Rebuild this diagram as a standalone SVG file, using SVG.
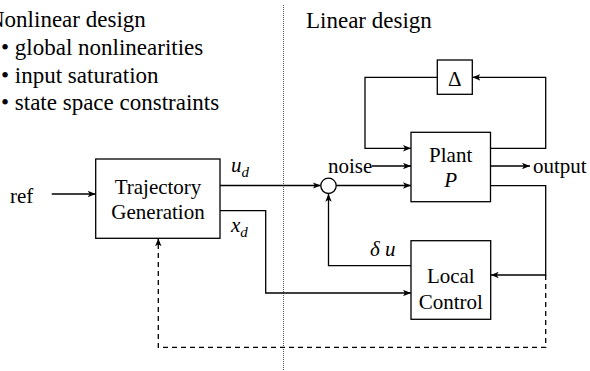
<svg xmlns="http://www.w3.org/2000/svg" width="590" height="371" viewBox="0 0 590 371" font-family="'Liberation Serif', 'DejaVu Serif', serif">
<style>
text{font-family:"Liberation Serif","DejaVu Serif",serif;fill:#000}
.h{font-size:23px}
.l{font-size:21px}
.i{font-style:italic}
.box{fill:#fff;stroke:#000;stroke-width:1.3}
.c{fill:none;stroke:#000;stroke-width:1.3}
.a{marker-end:url(#ah)}
.d{stroke-dasharray:5,4}
</style>
<defs>
<marker id="ah" viewBox="0 0 10 8" refX="10" refY="4" markerWidth="8" markerHeight="6.4" markerUnits="userSpaceOnUse" orient="auto">
<path d="M0,0 L10,4 L0,8 L2.5,4 z" fill="#000"/>
</marker>
</defs>
<rect width="590" height="371" fill="#fff"/>
<line x1="283.5" y1="5" x2="283.5" y2="371" stroke="#555" stroke-width="1" stroke-dasharray="1,1"/>
<g id="headings">
<text class="h" x="-12" y="27">Nonlinear design</text>
<text class="h" x="1" y="55">• global nonlinearities</text>
<text class="h" x="1" y="83">• input saturation</text>
<text class="h" x="1" y="110">• state space constraints</text>
<text class="h" x="306" y="28">Linear design</text>
</g>
<g id="connectors">
<path class="c a" d="M51.7,194 H95.7"/>
<path class="c a" d="M220,185.5 H320.8"/>
<path class="c a" d="M336.2,185.5 H411"/>
<path class="c a" d="M372,166 H411"/>
<path class="c a" d="M490.5,166 H530"/>
<path class="c a" d="M490.5,148.3 H545.7 V77.3 H472.3"/>
<path class="c a" d="M437.3,77.3 H365 V148.3 H411"/>
<path class="c a" d="M490.5,185.7 H545.7 V275 H490.7"/>
<path class="c a" d="M411,265.7 H328.5 V193.7"/>
<path class="c a" d="M220,210.7 H265.7 V293 H411"/>
<path class="c a d" d="M545.7,275 V347.3 H158.3 V238.3"/>
</g>
<g id="ref"><text class="l" x="10" y="203">ref</text></g>
<g id="traj">
<rect class="box" x="95.7" y="159" width="124.3" height="79.3"/>
<text class="l" x="158" y="194" text-anchor="middle">Trajectory</text>
<text class="l" x="158" y="219" text-anchor="middle">Generation</text>
</g>
<g id="ud"><text class="l i" x="231" y="171.5">u<tspan font-size="15" dy="5">d</tspan></text></g>
<g id="xd"><text class="l i" x="231" y="231.5">x<tspan font-size="15" dy="5">d</tspan></text></g>
<g id="sum"><circle cx="328.5" cy="185.8" r="7.7" fill="#fff" stroke="#000" stroke-width="1.3"/></g>
<g id="noise"><text class="l" x="328" y="173.3">noise</text></g>
<g id="plant">
<rect class="box" x="411" y="132.3" width="79.5" height="69.4"/>
<text class="l" x="450.7" y="161.7" text-anchor="middle">Plant</text>
<text class="l i" x="450.7" y="186.7" text-anchor="middle">P</text>
</g>
<g id="output"><text class="l" x="533" y="173">output</text></g>
<g id="delta">
<rect class="box" x="437.3" y="60" width="35" height="34.3"/>
<text class="l" x="454.8" y="86" text-anchor="middle">Δ</text>
</g>
<g id="local">
<rect class="box" x="411" y="240.7" width="79.7" height="78.6"/>
<text class="l" x="450.8" y="283.3" text-anchor="middle">Local</text>
<text class="l" x="450.8" y="309" text-anchor="middle">Control</text>
</g>
<g id="du"><text class="l i" x="370" y="256">δ u</text></g>
</svg>
